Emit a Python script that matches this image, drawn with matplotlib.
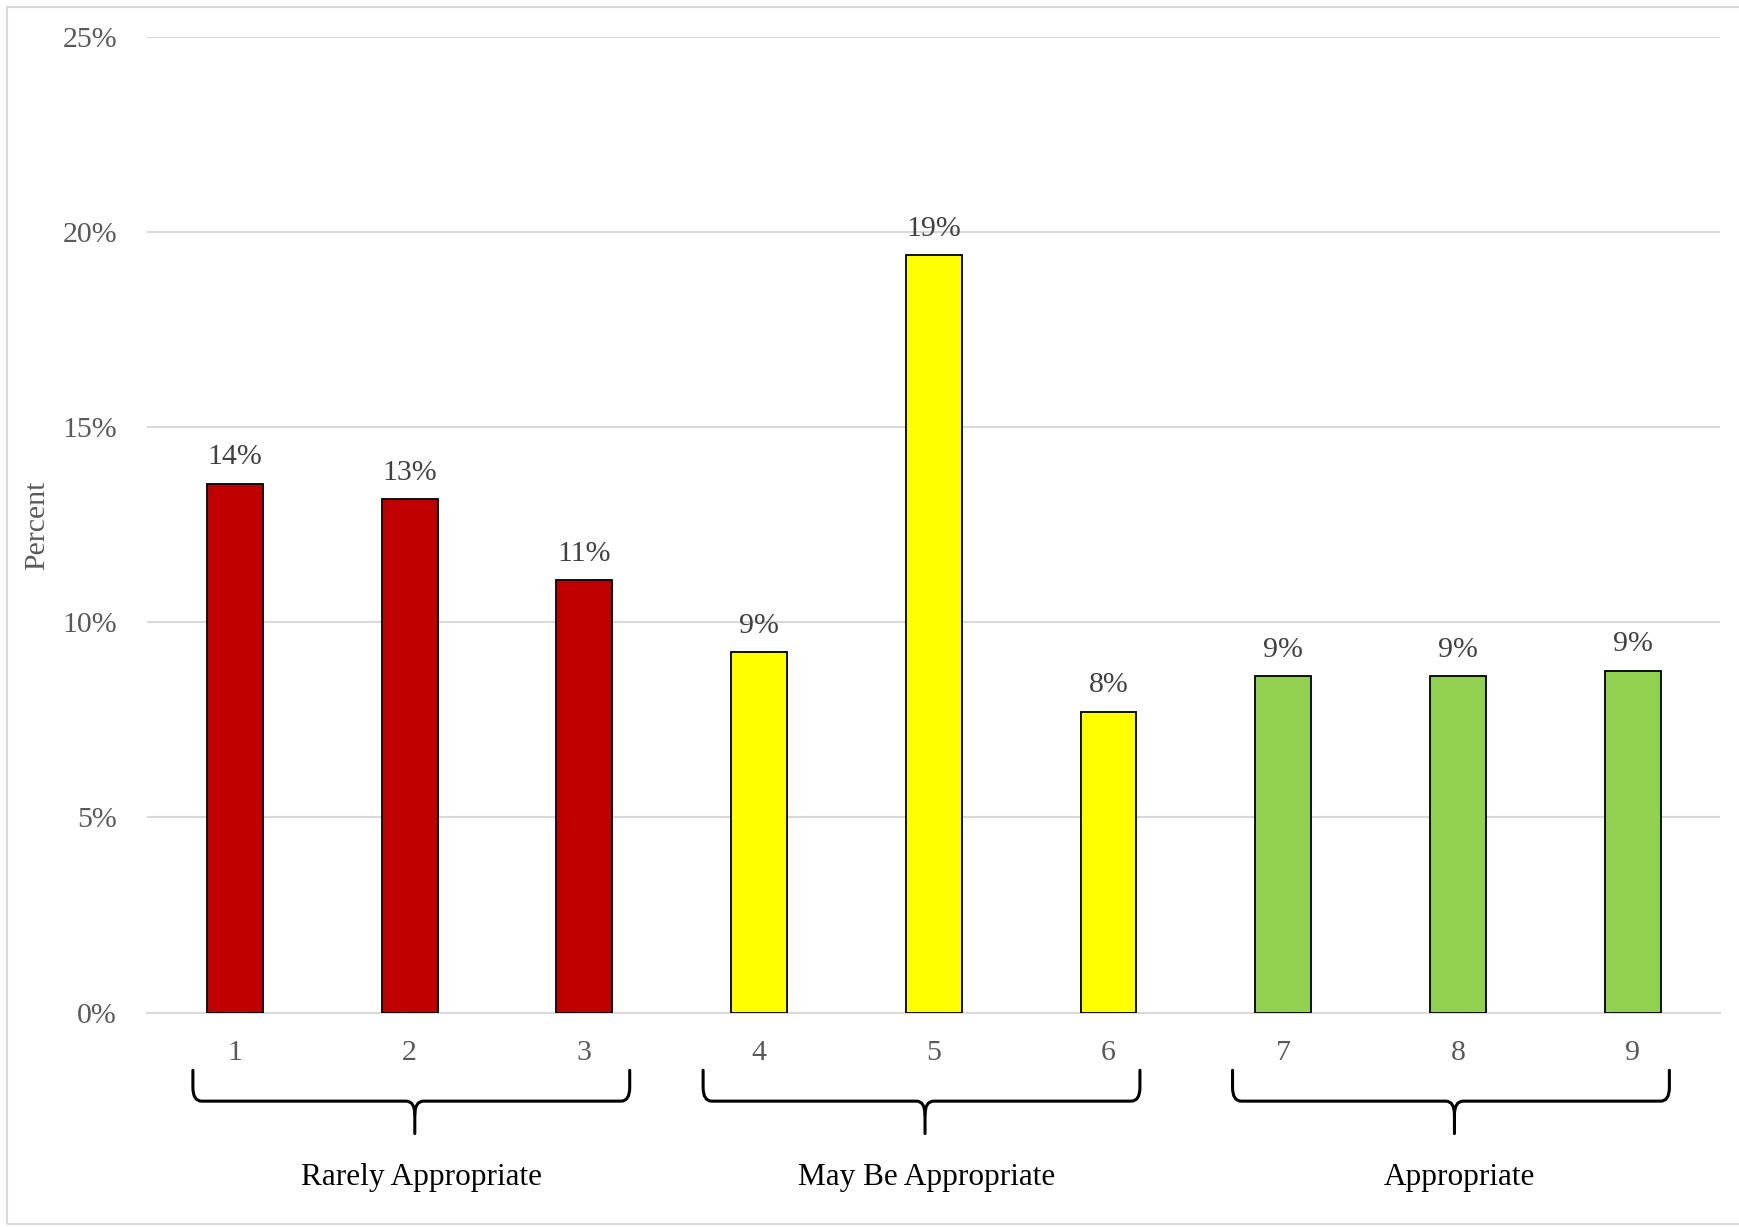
import numpy as np
import matplotlib.pyplot as plt
from matplotlib.path import Path
from matplotlib.patches import PathPatch, Rectangle

plt.rcParams['font.family'] = ['Liberation Serif', 'DejaVu Serif']

categories = ['1', '2', '3', '4', '5', '6', '7', '8', '9']
values = [13.55, 13.15, 11.08, 9.23, 19.40, 7.70, 8.61, 8.61, 8.75]
value_labels = ['14%', '13%', '11%', '9%', '19%', '8%', '9%', '9%', '9%']
groups = ['Rarely Appropriate', 'May Be Appropriate', 'Appropriate']
group_members = [[1, 2, 3], [4, 5, 6], [7, 8, 9]]
group_colors = ['#C00000', '#FFFF00', '#92D050']
y_ticks = [0, 5, 10, 15, 20, 25]

# small hand offsets so braces / names sit as in the original
brace_shift = [0.01, -0.07, -0.04]
label_shift = [0.07, -0.04, 0.01]

x = np.arange(1, len(categories) + 1)
colors = []
for xi in x:
    for g, mem in enumerate(group_members):
        if xi in mem:
            colors.append(group_colors[g])


def draw_brace(ax, x0, x1, y_top, y_mid, y_tip, rx=0.05, ry=0.35, tip_dx=0.02):
    xc = (x0 + x1) / 2 + tip_dx
    verts = [(x0, y_top), (x0, y_mid + ry), (x0, y_mid), (x0 + rx, y_mid),
             (xc - rx, y_mid), (xc, y_mid), (xc, y_mid - ry), (xc, y_tip)]
    codes = [Path.MOVETO, Path.LINETO, Path.CURVE3, Path.CURVE3,
             Path.LINETO, Path.CURVE3, Path.CURVE3, Path.LINETO]
    verts2 = [(x1, y_top), (x1, y_mid + ry), (x1, y_mid), (x1 - rx, y_mid),
              (xc + rx, y_mid), (xc, y_mid), (xc, y_mid - ry)]
    codes2 = codes[:-1]
    for v, c in [(verts, codes), (verts2, codes2)]:
        p = PathPatch(Path(v, c), fill=False, ec='black', lw=2.2,
                      clip_on=False, capstyle='round', joinstyle='round')
        ax.add_patch(p)


fig = plt.figure(figsize=(17.39, 12.27), dpi=100)
fig.patches.append(Rectangle((7 / 1739, 3 / 1227), 1.0, 1 - 10 / 1227,
                             transform=fig.transFigure, fill=False,
                             ec='#D9D9D9', lw=1.5))
ax = fig.add_axes([0.0848, 0.1748, 0.9043, 0.7954])

ax.bar(x, values, width=0.32, color=colors, edgecolor='black', linewidth=1.3, zorder=3)
ax.set_xlim(0.5, 9.5)
ax.set_ylim(0, 25)
ax.set_xticks(x)
ax.set_xticklabels(categories)
ax.set_yticks(y_ticks)
ax.set_yticklabels(['%d%%' % t for t in y_ticks])
ax.grid(axis='y', color='#D9D9D9', lw=1.5)
ax.set_axisbelow(True)
for s in ['top', 'right', 'left']:
    ax.spines[s].set_visible(False)
ax.spines['bottom'].set_color('#D9D9D9')
ax.spines['bottom'].set_linewidth(1.5)
ax.tick_params(length=0, labelsize=21.5, labelcolor='#595959')
ax.tick_params(axis='y', pad=22)
ax.tick_params(axis='x', pad=20)

for xi, v, lbl in zip(x, values, value_labels):
    ax.annotate(lbl, (xi, v), xytext=(0, 14), textcoords='offset points',
                ha='center', va='baseline', fontsize=21.5, color='#404040')

# braces and group names under the axis
for name, mem, bs, ls in zip(groups, group_members, brace_shift, label_shift):
    c = np.mean(mem)
    draw_brace(ax, c - 1.25 + bs, c + 1.25 + bs, -1.48, -2.27, -3.1)
    ax.text(c + ls, -4.22, name, ha='center', va='center',
            fontsize=22.5, color='black', clip_on=False)

fig.text(37 / 1739, 1 - 525 / 1227, 'Percent', rotation=90, ha='center',
         va='center', fontsize=21.5, color='#595959')

fig.savefig('out.png', dpi=100)
